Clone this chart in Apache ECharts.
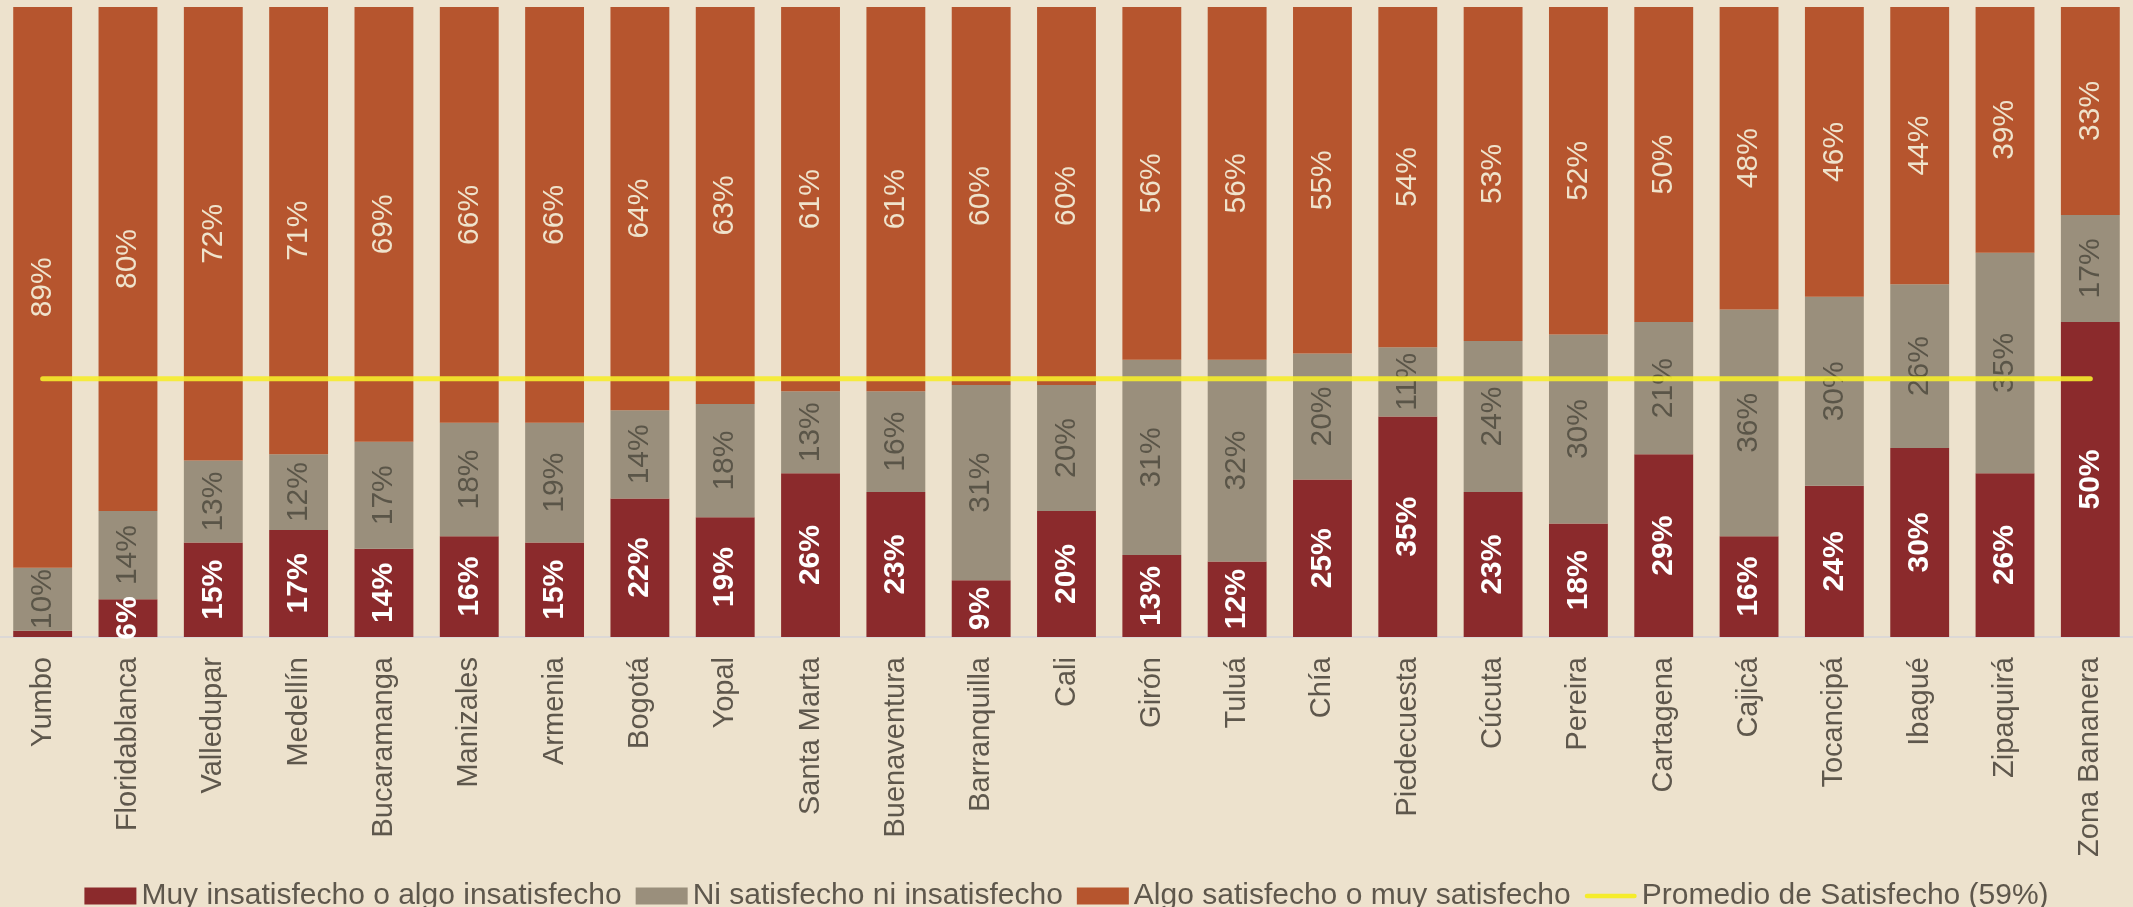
<!DOCTYPE html>
<html>
<head>
<meta charset="utf-8">
<script src="https://cdn.jsdelivr.net/npm/echarts@6/dist/echarts.min.js"></script>
<style>
html,body{margin:0;padding:0;background:#ede2cd;}
#c{width:2133px;height:907px;}
</style>
</head>
<body>
<div id="c"></div>
<script>
const categories = ['Yumbo','Floridablanca','Valledupar','Medellín','Bucaramanga','Manizales','Armenia','Bogotá','Yopal','Santa Marta','Buenaventura','Barranquilla','Cali','Girón','Tuluá','Chía','Piedecuesta','Cúcuta','Pereira','Cartagena','Cajicá','Tocancipá','Ibagué','Zipaquirá','Zona Bananera'];
const insatisfecho = [1,6,15,17,14,16,15,22,19,26,23,9,20,13,12,25,35,23,18,29,16,24,30,26,50];
const neutral      = [10,14,13,12,17,18,19,14,18,13,16,31,20,31,32,20,11,24,30,21,36,30,26,35,17];
const satisfecho   = [89,80,72,71,69,66,66,64,63,61,61,60,60,56,56,55,54,53,52,50,48,46,44,39,33];
const promedioSatisfecho = 59;
const seriesNames = ['Muy insatisfecho o algo insatisfecho','Ni satisfecho ni insatisfecho','Algo satisfecho o muy satisfecho','Promedio de Satisfecho (59%)'];

const FONT = '"Liberation Sans", Arial, sans-serif';
const chart = echarts.init(document.getElementById('c'), null, {renderer:'canvas'});

function barLabel(color, weight){
  return {
    show:true, position:'inside', rotate:90, color:color, fontSize:30, fontWeight:weight, fontFamily:FONT,
    formatter: p => p.value >= 2 ? p.value + '%' : ''
  };
}

chart.setOption({
  backgroundColor:'#ede2cd',
  animation:false,
  grid:{left:-1, top:7, width:2150, bottom:270, containLabel:false},
  legend:{
    top:876, left:'center',
    itemWidth:52, itemHeight:17, itemGap:14,
    textStyle:{color:'#5e574c', fontSize:30, fontFamily:FONT},
    data:[
      {name:seriesNames[0], icon:'rect'},
      {name:seriesNames[1], icon:'rect'},
      {name:seriesNames[2], icon:'rect'},
      {name:seriesNames[3], icon:'path://M2.5,0 H54.5 A2.5,2.5 0 0 1 54.5,5 H2.5 A2.5,2.5 0 0 1 2.5,0 Z'}
    ]
  },
  xAxis:{
    type:'category', data:categories,
    axisLine:{show:true, lineStyle:{color:'#d6d4d8', width:1.5}},
    axisTick:{show:false},
    axisLabel:{rotate:90, color:'#5e574c', fontSize:29, fontFamily:FONT, margin:20, interval:0}
  },
  yAxis:[
    {type:'value', min:0, max:100, show:false},
    {type:'value', min:0, max:100, inverse:true, show:false}
  ],
  series:[
    {name:seriesNames[0], type:'bar', stack:'t', data:insatisfecho, barCategoryGap:'31%',
     itemStyle:{color:'#8b2a2c'}, label:barLabel('#ffffff','bold')},
    {name:seriesNames[1], type:'bar', stack:'t', data:neutral,
     itemStyle:{color:'#9a8f7c'}, label:barLabel('#5a5548','normal')},
    {name:seriesNames[2], type:'bar', stack:'t', data:satisfecho,
     itemStyle:{color:'#b6552e'}, label:barLabel('#efe3cc','normal')},
    {name:seriesNames[3], type:'line', yAxisIndex:1, z:10,
     data:categories.map(() => promedioSatisfecho),
     symbol:'none', lineStyle:{color:'#f5ec2c', width:5, cap:'round', opacity:0.9},
     itemStyle:{color:'#f5ec2c'}}
  ]
});
</script>
</body>
</html>
